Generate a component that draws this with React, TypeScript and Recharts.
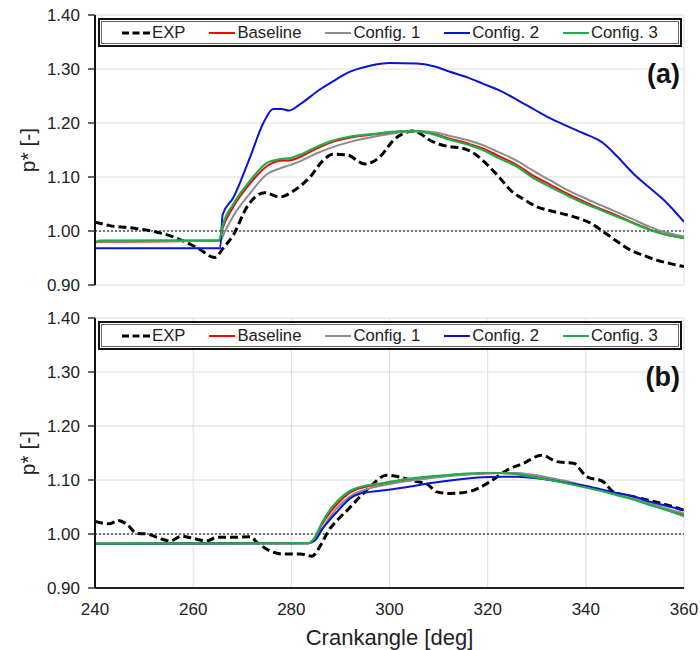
import { LineChart, Line, XAxis, YAxis, CartesianGrid, ReferenceLine, Legend } from 'recharts';

type Pt = [number, number];

const crankTicks = [240, 260, 280, 300, 320, 340, 360];
const pTicks = [0.9, 1.0, 1.1, 1.2, 1.3, 1.4];
const seriesNames = ['EXP', 'Baseline', 'Config. 1', 'Config. 2', 'Config. 3'];

// panel (a)
const expA: Pt[] = [
  [240, 1.017], [243, 1.01], [248, 1.005], [251, 1.001], [256, 0.989], [261, 0.968], [264.4, 0.951],
  [266.1, 0.968], [268.2, 0.993], [271, 1.045], [274.6, 1.071], [277.7, 1.063], [280.4, 1.074],
  [283.8, 1.1], [286.5, 1.131], [288.5, 1.142], [291.3, 1.141], [295, 1.124], [298, 1.137],
  [300.8, 1.168], [304.8, 1.185], [308.9, 1.165], [312.3, 1.156], [314.5, 1.154], [317, 1.145],
  [319.8, 1.124], [322.5, 1.098], [324.6, 1.076], [327.5, 1.058], [330, 1.045], [333, 1.037],
  [336.1, 1.03], [339, 1.022], [340.9, 1.015], [343.5, 0.999], [346, 0.983], [349, 0.965],
  [352, 0.954], [354.4, 0.946], [357, 0.94], [360, 0.934],
];
const baseA: Pt[] = [
  [240, 0.98], [265.3, 0.982], [266, 1.005], [268.2, 1.045], [271.6, 1.088], [275, 1.12],
  [277.7, 1.13], [279.7, 1.131], [282, 1.138], [285.2, 1.153], [288, 1.164], [292, 1.173],
  [297, 1.179], [301, 1.183], [305, 1.185], [309, 1.18], [312.3, 1.171], [316, 1.162], [319, 1.153],
  [322, 1.14], [326, 1.122], [329, 1.104], [332.7, 1.086], [336, 1.07], [339.5, 1.055], [343, 1.041],
  [346.3, 1.029], [350, 1.014], [353, 1.003], [356, 0.994], [360, 0.987],
];
const cfg1A: Pt[] = [
  [240, 0.98], [265.5, 0.982], [266.5, 1.0], [268.2, 1.028], [271.6, 1.07], [275, 1.105],
  [277.7, 1.116], [279.7, 1.122], [282, 1.13], [285.2, 1.144], [288, 1.154], [292, 1.165],
  [297, 1.175], [301, 1.181], [305, 1.185], [309, 1.183], [312.3, 1.176], [316, 1.168], [319, 1.159],
  [322, 1.147], [326, 1.13], [329, 1.113], [332.7, 1.094], [336, 1.077], [339.5, 1.062], [343, 1.048],
  [346.3, 1.035], [350, 1.02], [353, 1.008], [356, 0.998], [360, 0.99],
];
const cfg2A: Pt[] = [
  [240, 0.968], [265.5, 0.968], [266, 1.03], [268.2, 1.062], [271.6, 1.137], [274.3, 1.2],
  [276.3, 1.226], [278, 1.226], [279.5, 1.223], [281.8, 1.235], [285.8, 1.262], [289, 1.28],
  [292, 1.295], [296, 1.306], [300, 1.311], [305.5, 1.31], [309, 1.305], [312.3, 1.295],
  [316, 1.284], [319, 1.273], [322.5, 1.26], [326, 1.243], [329.5, 1.225], [332.7, 1.209],
  [336, 1.195], [339.5, 1.181], [343.5, 1.163], [346.5, 1.137], [349.6, 1.107], [353, 1.08],
  [356.5, 1.052], [360, 1.017],
];
const cfg3A: Pt[] = [
  [240, 0.978], [241, 0.982], [265.3, 0.983], [266, 1.01], [268.2, 1.05], [271.6, 1.093],
  [275, 1.126], [277.7, 1.133], [279.7, 1.135], [282, 1.142], [285.2, 1.156], [288, 1.166],
  [292, 1.175], [297, 1.18], [301, 1.184], [305, 1.185], [309, 1.179], [312.3, 1.169], [316, 1.16],
  [319, 1.15], [322, 1.136], [326, 1.119], [329, 1.1], [332.7, 1.082], [336, 1.067], [339.5, 1.052],
  [343, 1.039], [346.3, 1.027], [350, 1.013], [353, 1.002], [356, 0.994], [360, 0.987],
];

// panel (b)
const expB: Pt[] = [
  [240, 1.023], [243, 1.019], [244.7, 1.025], [246.5, 1.018], [248.5, 1.001], [250.6, 1.0],
  [252.9, 0.993], [255.3, 0.987], [257.7, 0.996], [260, 0.992], [262.8, 0.987], [264.8, 0.994],
  [268.2, 0.994], [271.6, 0.995], [273.2, 0.983], [275.6, 0.969], [278.3, 0.963], [281.8, 0.963],
  [284.2, 0.959], [286.2, 0.983], [287.5, 1.005], [289.3, 1.025], [291.5, 1.045], [294, 1.069],
  [296, 1.087], [299.4, 1.109], [302.8, 1.104], [305.5, 1.097], [307.6, 1.093], [309.6, 1.078],
  [312.3, 1.075], [316.4, 1.079], [320.5, 1.097], [323.9, 1.118], [327.3, 1.131], [331, 1.146],
  [334.1, 1.134], [337.5, 1.131], [340.2, 1.106], [343.5, 1.097], [345.6, 1.078], [349.6, 1.069],
  [353, 1.062], [356.5, 1.054], [360, 1.044],
];
const baseB: Pt[] = [
  [240, 0.982], [283.5, 0.983], [284.5, 0.989], [286.2, 1.017], [287.9, 1.04], [289.3, 1.055],
  [292, 1.077], [295.4, 1.088], [298.5, 1.093], [302.2, 1.099], [305.5, 1.103], [308.9, 1.106],
  [314, 1.11], [319, 1.112], [322.5, 1.113], [325.9, 1.111], [329, 1.107], [332.7, 1.101],
  [336, 1.095], [339.5, 1.088], [343, 1.081], [346.3, 1.073], [350, 1.064], [353, 1.056],
  [356.5, 1.046], [360, 1.036],
];
const cfg1B: Pt[] = [
  [240, 0.982], [283.5, 0.983], [285, 0.99], [286.5, 1.012], [288, 1.033], [289.5, 1.05],
  [292, 1.07], [295.4, 1.083], [298.5, 1.09], [302.2, 1.096], [305.5, 1.1], [308.9, 1.104],
  [314, 1.109], [319, 1.112], [322.5, 1.113], [325.9, 1.113], [329, 1.11], [332.7, 1.104],
  [336, 1.098], [339.5, 1.09], [343, 1.082], [346.3, 1.074], [350, 1.065], [353, 1.057],
  [356.5, 1.047], [360, 1.038],
];
const cfg2B: Pt[] = [
  [240, 0.982], [283.5, 0.983], [285, 0.99], [286.2, 1.008], [287.9, 1.027], [289.3, 1.041],
  [292, 1.066], [294, 1.075], [296, 1.078], [299, 1.081], [302.2, 1.085], [305.5, 1.09],
  [308.9, 1.095], [314, 1.101], [319, 1.105], [322.5, 1.106], [326, 1.106], [329, 1.104],
  [332.7, 1.1], [336, 1.095], [339.5, 1.09], [343, 1.083], [346.3, 1.076], [350, 1.069],
  [353, 1.06], [356.5, 1.052], [360, 1.044],
];
const cfg3B: Pt[] = [
  [240, 0.982], [283.5, 0.983], [284.5, 0.99], [286.2, 1.02], [287.9, 1.045], [289.3, 1.06],
  [292, 1.08], [295.4, 1.09], [298.5, 1.094], [302.2, 1.1], [305.5, 1.104], [308.9, 1.107],
  [314, 1.111], [319, 1.113], [322.5, 1.113], [325.9, 1.111], [329, 1.106], [332.7, 1.1],
  [336, 1.094], [339.5, 1.087], [343, 1.08], [346.3, 1.072], [350, 1.063], [353, 1.054],
  [356.5, 1.044], [360, 1.033],
];

const styles = [
  { color: '#000000', width: 3, dash: '8 4' },
  { color: '#ff0000', width: 2, dash: undefined },
  { color: '#8c8c8c', width: 2, dash: undefined },
  { color: '#0a14d2', width: 2, dash: undefined },
  { color: '#1fae4c', width: 2.2, dash: undefined },
];

const FONT = '"Liberation Sans", Arial, sans-serif';

function BoxLegend() {
  return (
    <div
      style={{
        boxSizing: 'border-box',
        width: 584,
        height: 29,
        background: '#fff',
        border: '2px solid #111',
        boxShadow: 'inset 0 0 0 1px #fff, inset 0 0 0 2px #666',
        display: 'flex',
        alignItems: 'center',
        paddingLeft: 22,
        gap: 24,
        fontSize: 16.7,
        color: '#222',
        fontFamily: FONT,
      }}
    >
      {seriesNames.map((name, i) => {
        const s = styles[i];
        const w = i === 0 ? 28 : 26;
        return (
          <div key={name} style={{ display: 'flex', alignItems: 'center' }}>
            <svg width={w} height={6} style={{ marginRight: 2 }}>
              <line x1={0} y1={3} x2={w} y2={3} stroke={s.color} strokeWidth={i === 0 ? 3 : 2}
                strokeDasharray={i === 0 ? '7 3.5' : undefined} />
            </svg>
            <span>{name}</span>
          </div>
        );
      })}
    </div>
  );
}

function Panel({ series, tag, showX }: { series: Pt[][]; tag: string; showX: boolean }) {
  const height = showX ? 350 : 300;
  const margin = showX
    ? { top: 18, right: 16, bottom: 5, left: 18 }
    : { top: 15, right: 16, bottom: 15, left: 18 };
  return (
    <div style={{ position: 'relative', width: 700, height }}>
      <LineChart width={700} height={height} margin={margin}>
        <CartesianGrid stroke="#dedede" strokeWidth={1} />
        <XAxis
          type="number"
          dataKey="x"
          domain={[240, 360]}
          ticks={crankTicks}
          allowDataOverflow
          height={showX ? 57 : 0}
          tick={showX ? { fill: '#222', fontSize: 17 } : false}
          tickLine={false}
          tickSize={8}
          tickMargin={7}
          axisLine={{ stroke: '#222', strokeWidth: 2 }}
          label={showX ? { value: 'Crankangle [deg]', position: 'insideBottom', offset: 0, fontSize: 22, fill: '#222' } : undefined}
        />
        <XAxis xAxisId="top" orientation="top" type="number" domain={[240, 360]} height={0}
          tick={false} tickLine={false} axisLine={{ stroke: '#555', strokeWidth: 2 }} />
        <YAxis
          type="number"
          domain={[0.9, 1.4]}
          ticks={pTicks}
          allowDataOverflow
          width={77}
          tickFormatter={(v: number) => v.toFixed(2)}
          tick={{ fill: '#222', fontSize: 17 }}
          tickSize={7}
          tickMargin={8}
          tickLine={{ stroke: '#333', strokeWidth: 1.5 }}
          axisLine={{ stroke: '#111', strokeWidth: 2 }}
          label={{ value: 'p* [-]', angle: -90, position: 'insideLeft', offset: 10, fontSize: 21, fill: '#222', style: { textAnchor: 'middle' } }}
        />
        <YAxis yAxisId="right" orientation="right" type="number" domain={[0.9, 1.4]} width={0}
          tick={false} tickLine={false} axisLine={{ stroke: '#555', strokeWidth: 2 }} />
        <ReferenceLine y={1.0} stroke="#000" strokeWidth={1} strokeDasharray="2 2" />
        {series.map((pts, i) => (
          <Line
            key={seriesNames[i]}
            name={seriesNames[i]}
            data={pts.map(([x, y]) => ({ x, y }))}
            dataKey="y"
            type="monotone"
            stroke={styles[i].color}
            strokeWidth={styles[i].width}
            strokeDasharray={styles[i].dash}
            dot={false}
            activeDot={false}
            isAnimationActive={false}
          />
        ))}
        <Legend
          layout="horizontal"
          verticalAlign="middle"
          align="center"
          content={() => <BoxLegend />}
          wrapperStyle={{ top: showX ? 21 : 18, left: 98, width: 584, height: 29 }}
        />
      </LineChart>
      <div
        style={{
          position: 'absolute',
          left: 590,
          width: 90,
          top: showX ? 61 : 58,
          textAlign: 'right',
          fontSize: 27,
          fontWeight: 'bold',
          lineHeight: '32px',
          color: '#111',
          fontFamily: FONT,
        }}
      >
        {tag}
      </div>
    </div>
  );
}

export default function App() {
  return (
    <div style={{ position: 'absolute', left: 0, top: 0, width: 700, height: 650, background: '#fff', fontFamily: FONT }}>
      <Panel series={[expA, baseA, cfg1A, cfg2A, cfg3A]} tag="(a)" showX={false} />
      <Panel series={[expB, baseB, cfg1B, cfg2B, cfg3B]} tag="(b)" showX />
    </div>
  );
}
